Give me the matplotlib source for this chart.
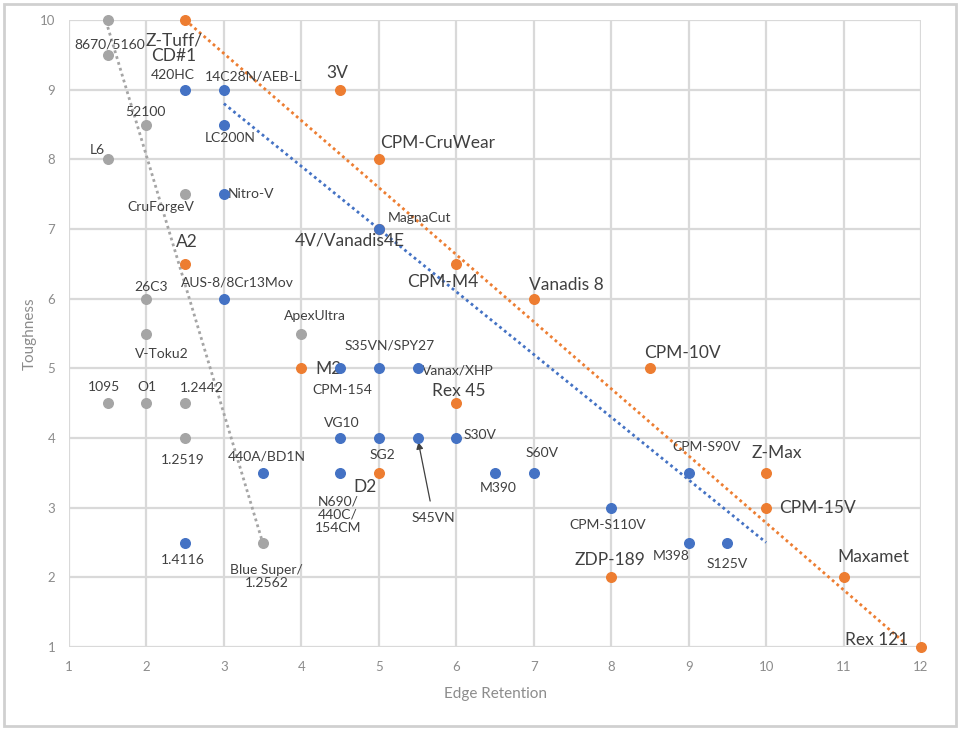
#!/usr/bin/env python3

import matplotlib

matplotlib.use("Agg")

import matplotlib.pyplot as plt
from matplotlib.patches import Rectangle

plt.rcParams["font.family"] = ["Lato", "DejaVu Sans"]

# carbon / low-alloy steels (gray)
gray_x = [1.5, 1.5, 2, 1.5, 2.5, 2, 2, 4, 1.5, 2, 2.5, 2.5, 3.5]
gray_y = [10, 9.5, 8.5, 8, 7.5, 6, 5.5, 5.5, 4.5, 4.5, 4.5, 4, 2.5]
gray_labels = ["", "8670/5160", "52100", "L6", "CruForgeV", "26C3", "V-Toku2",
               "ApexUltra", "1095", "O1", "1.2442", "1.2519", "Blue Super/\n1.2562"]

# stainless steels (blue)
blue_x = [2.5, 3, 3, 3, 5, 3, 4.5, 5, 5.5, 4.5, 5, 5.5, 6, 3.5, 4.5, 6.5, 7,
          8, 9, 9, 9.5, 2.5]
blue_y = [9, 9, 8.5, 7.5, 7, 6, 5, 5, 5, 4, 4, 4, 4, 3.5, 3.5, 3.5, 3.5,
          3, 3.5, 2.5, 2.5, 2.5]
blue_labels = ["420HC", "14C28N/AEB-L", "LC200N", "Nitro-V", "MagnaCut",
               "AUS-8/8Cr13Mov", "CPM-154", "S35VN/SPY27", "Vanax/XHP", "VG10",
               "SG2", "S45VN", "S30V", "440A/BD1N", "N690/\n440C/\n154CM", "M390",
               "S60V", "CPM-S110V", "CPM-S90V", "M398", "S125V", "1.4116"]

# tool steels (orange)
orange_x = [2.5, 4.5, 5, 2.5, 5, 6, 7, 4, 6, 5, 8.5, 10, 10, 8, 11, 12]
orange_y = [10, 9, 8, 6.5, 7, 6.5, 6, 5, 4.5, 3.5, 5, 3.5, 3, 2, 2, 1]
orange_labels = ["Z-Tuff/\nCD#1", "3V", "CPM-CruWear", "A2", "4V/Vanadis4E",
                 "CPM-M4", "Vanadis 8", "M2", "Rex 45", "D2", "CPM-10V", "Z-Max",
                 "CPM-15V", "ZDP-189", "Maxamet", "Rex 121"]

# trend line end points
gray_trend_x = [1.5, 3.5]
gray_trend_y = [9.9, 2.5]
blue_trend_x = [3, 10]
blue_trend_y = [8.8, 2.5]
orange_trend_x = [2.5, 11.8]
orange_trend_y = [10, 1.05]

# label offsets in pixels (dx, dy up)
gray_offsets = [(0, 0), (2, 10), (-1, 13), (-10, 9), (-24, -13), (5, 12),
                (15, -21), (14, 17), (-4, 16), (0, 16), (17, 15), (-2, -22),
                (4, -34)]
blue_offsets = [(-12, 15), (29, 13), (6, -14), (27, 0), (41, 11), (13, 16),
                (2, -22), (11, 23), (40, -2), (2, 15), (4, -17), (16, -80),
                (24, 3), (4, 16), (-2, -42), (3, -15), (8, 20), (-3, -17),
                (18, 26), (-17, -14), (0, -21), (-2, -18)]
orange_offsets = [(-11, -28), (-3, 17), (59, 16), (2, 22), (-29, -11), (-14, -18),
                  (33, 14), (27, -1), (2, 12), (-14, -14), (33, 15), (11, 20),
                  (51, 0), (-1, 17), (30, 20), (-44, 7)]

GRAY = "#a5a5a5"
BLUE = "#4472c4"
ORANGE = "#ed7d31"
TEXT = "#404040"


def draw_labels(ax, xs, ys, labels, offsets, size, spacing=1.1):
    for x, y, label, (dx, dy) in zip(xs, ys, labels, offsets):
        if not label:
            continue
        arrow = None
        if label == "S45VN":
            arrow = dict(arrowstyle="-|>", color="#404040", lw=0.9,
                         shrinkA=6, shrinkB=3)
        ax.annotate(
            label,
            (x, y),
            xytext=(dx, dy),
            textcoords="offset pixels",
            ha="center",
            va="center",
            fontsize=size,
            color=TEXT,
            linespacing=spacing,
            arrowprops=arrow,
        )


fig = plt.figure(figsize=(9.6, 7.3), dpi=100)
ax = fig.add_axes([69 / 960, 1 - 647 / 730, (921 - 69) / 960, (647 - 20) / 730])

ax.plot(gray_trend_x, gray_trend_y, linestyle=(0, (1, 1.2)), color=GRAY, lw=2)
ax.plot(blue_trend_x, blue_trend_y, linestyle=(0, (1, 1.2)), color=BLUE, lw=2)
ax.plot(orange_trend_x, orange_trend_y, linestyle=(0, (1, 1.2)), color=ORANGE, lw=2)

ax.scatter(orange_x, orange_y, s=48, color=ORANGE, zorder=3, clip_on=False)
ax.scatter(gray_x, gray_y, s=48, color=GRAY, zorder=3, clip_on=False)
ax.scatter(blue_x, blue_y, s=48, color=BLUE, zorder=4, clip_on=False)

draw_labels(ax, gray_x, gray_y, gray_labels, gray_offsets, 10)
draw_labels(ax, blue_x, blue_y, blue_labels, blue_offsets, 10)
draw_labels(ax, orange_x, orange_y, orange_labels, orange_offsets, 12.5, 1.0)

ax.set_xlim(1, 12)
ax.set_ylim(1, 10)
ax.set_xticks(range(1, 13))
ax.set_yticks(range(1, 11))
ax.grid(color="#d9d9d9", lw=1.6)
ax.set_axisbelow(True)
for spine in ax.spines.values():
    spine.set_visible(False)
ax.tick_params(length=0, labelsize=9.5, labelcolor="#8c8c8c", pad=10)

ax.set_xlabel("Edge Retention", fontsize=11, color="#8c8c8c", labelpad=10)
ax.set_ylabel("Toughness", fontsize=11, color="#8c8c8c", labelpad=2)

fig.patches.append(Rectangle((4 / 960, 4 / 730), 952 / 960, 722 / 730,
                             transform=fig.transFigure, fill=False,
                             edgecolor="#d0d0d0", lw=2))

fig.savefig("out.png", dpi=100)
plt.close(fig)
